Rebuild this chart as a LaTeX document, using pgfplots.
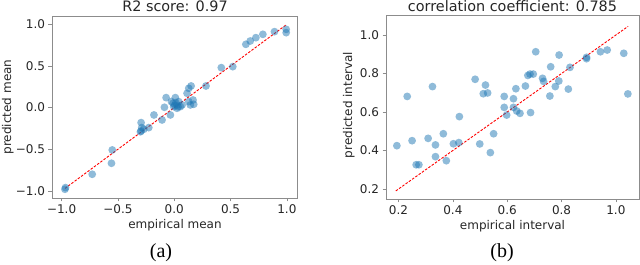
\documentclass[border=0pt]{standalone}
\usepackage{pgfplots}
\pgfplotsset{compat=1.18}
\usepackage{fontspec}
\setmainfont{DejaVu Sans}
\newfontfamily\capfont{Liberation Serif}
\definecolor{tabblue}{RGB}{31,119,180}
\begin{document}
\begin{tikzpicture}
\path[use as bounding box] (0pt,0pt) rectangle (640pt,265pt);
\pgfplotsset{myax/.style={scale only axis, anchor=south west,
  axis line style={black!45, line width=0.6pt},
  tick style={black!45, line width=0.6pt},
  major tick length=3.5pt, tick align=outside, xtick pos=bottom, ytick pos=left,
  ticklabel style={font=\fontsize{12}{14}\selectfont, text=black!85},
  /pgf/number format/assume math mode=true,
  /pgf/number format/fixed, /pgf/number format/fixed zerofill,
  /pgf/number format/precision=1},
  pts/.style={only marks, mark=*, mark size=3.9pt, mark options={draw=none, draw opacity=0, fill=tabblue, fill opacity=0.5}},
  rline/.style={red, line width=0.9pt, dash pattern=on 2.5pt off 1.5pt}}
\begin{axis}[myax, at={(52pt,67pt)}, width=245pt, height=182pt,
  xmin=-1.085, xmax=1.09, ymin=-1.085, ymax=1.1,
  xtick={-1,-0.5,0,0.5,1}, xticklabels={−1.0,−0.5,0.0,0.5,1.0},
  ytick={-1,-0.5,0,0.5,1}, yticklabels={−1.0,−0.5,0.0,0.5,1.0}]
\addplot[pts] table {
x y
-0.965 -0.96
-0.97 -0.98
-0.728 -0.80
-0.55 -0.508
-0.557 -0.668
-0.294 -0.18
-0.288 -0.24
-0.294 -0.28
-0.27 -0.26
-0.30 -0.29
-0.226 -0.24
-0.18 -0.088
-0.108 -0.148
-0.072 0.12
-0.087 0.004
-0.034 -0.088
-0.025 0.072
-0.01 0.052
-0.004 0.012
0.01 0.12
0.025 0.032
0.04 0.072
0.055 0.012
0.07 0.032
0.025 -0.008
0.005 0.03
0.035 0.01
0.015 0.06
0.114 0.172
0.129 0.232
0.15 0.26
0.129 0.072
0.143 0.032
0.173 0.04
0.167 0.092
0.282 0.26
0.418 0.48
0.52 0.492
0.636 0.76
0.675 0.80
0.725 0.84
0.787 0.88
0.89 0.912
0.994 0.94
0.994 0.90
};
\addplot[rline] coordinates {(-0.97,-0.97) (1,1)};
\end{axis}
\begin{axis}[myax, at={(386pt,66pt)}, width=253pt, height=184pt,
  xmin=0.154, xmax=1.085, ymin=0.148, ymax=1.104,
  xtick={0.2,0.4,0.6,0.8,1.0}, ytick={0.2,0.4,0.6,0.8,1.0}]
\addplot[pts] table {
x y
0.194 0.425
0.25 0.451
0.265 0.326
0.275 0.326
0.232 0.681
0.309 0.463
0.325 0.732
0.336 0.429
0.336 0.368
0.365 0.487
0.376 0.347
0.402 0.435
0.422 0.441
0.424 0.576
0.482 0.770
0.499 0.434
0.512 0.695
0.52 0.740
0.528 0.699
0.55 0.487
0.538 0.389
0.589 0.681
0.589 0.624
0.598 0.584
0.632 0.721
0.623 0.669
0.623 0.624
0.635 0.605
0.647 0.593
0.667 0.735
0.676 0.790
0.684 0.797
0.696 0.797
0.705 0.913
0.686 0.597
0.73 0.775
0.734 0.759
0.76 0.835
0.757 0.683
0.777 0.732
0.79 0.761
0.791 0.896
0.825 0.719
0.831 0.832
0.892 0.884
0.892 0.877
0.943 0.913
0.968 0.922
1.029 0.905
1.044 0.694
};
\addplot[rline] coordinates {(0.19,0.19) (1.045,1.045)};
\end{axis}
\node[font=\fontsize{14.4}{17}\selectfont, anchor=base, text=black!85] at (175pt,253pt) {R2 score: 0.97};
\node[font=\fontsize{14.4}{17}\selectfont, anchor=base, text=black!85] at (512.5pt,253pt) {correlation coefficient: 0.785};
\node[font=\fontsize{12}{14}\selectfont, anchor=base, text=black!85] at (175pt,36pt) {empirical mean};
\node[font=\fontsize{12}{14}\selectfont, anchor=base, text=black!85] at (512.5pt,35pt) {empirical interval};
\node[font=\fontsize{12}{14}\selectfont, anchor=base, rotate=90, text=black!85] at (11pt,158pt) {predicted mean};
\node[font=\fontsize{12}{14}\selectfont, anchor=base, rotate=90, text=black!85] at (352pt,160pt) {predicted interval};
\node[font=\capfont\fontsize{20}{22}\selectfont, anchor=base] at (161pt,7pt) {(a)};
\node[font=\capfont\fontsize{20}{22}\selectfont, anchor=base] at (502pt,7pt) {(b)};
\end{tikzpicture}
\end{document}
